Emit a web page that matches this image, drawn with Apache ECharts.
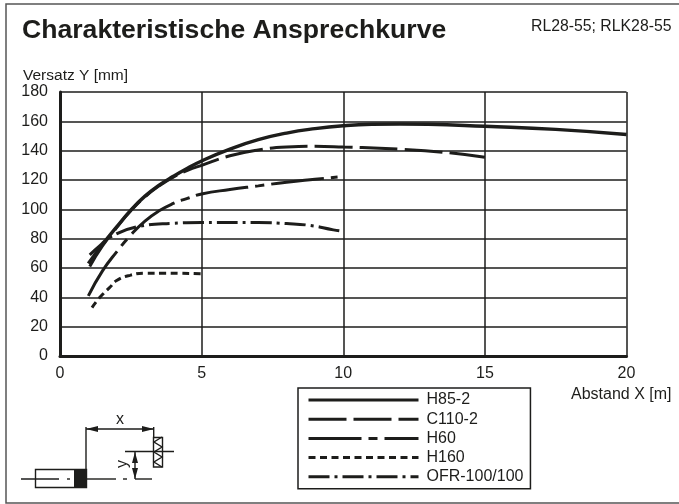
<!DOCTYPE html>
<html>
<head>
<meta charset="utf-8">
<style>
  html, body { margin: 0; padding: 0; background: #fff; }
  #chart { width: 679px; height: 504px; }
</style>
<script src="https://cdn.jsdelivr.net/npm/echarts@6/dist/echarts.min.js"></script>
</head>
<body>
<div id="chart"></div>
<script>
const ink = "#1d1d1b";
const font = "'Liberation Sans', Arial, sans-serif";

// [abstand m, versatz mm]
const h85 = [[1, 63], [1.5, 76], [2, 88], [2.5, 99.5], [3, 109], [3.5, 116.5], [4, 122.5], [4.5, 128], [5, 133], [6, 141], [7, 147.5], [8, 152], [9, 155], [10, 157], [11, 158], [12, 158.2], [13, 158], [15, 156.6], [17.5, 154.5], [20, 151]];
const c110 = [[1.05, 61], [1.5, 75], [2, 87.5], [2.5, 99], [3, 108.5], [3.5, 116], [4, 122], [4.5, 126.5], [5, 130], [6, 136.5], [7, 140.5], [8, 142.5], [9, 143], [10, 142.5], [12, 141], [13.5, 139], [15, 135.5]];
const h60 = [[1, 41], [1.5, 58], [2, 71], [2.5, 82.5], [3, 92], [3.5, 99], [4, 104], [4.5, 107.5], [5, 110.5], [6, 113.5], [7, 116], [8, 118.5], [9, 120.5], [9.8, 122]];
const h160 = [[1.13, 33], [1.41, 40], [1.77, 47], [2, 51.5], [2.47, 55], [3.06, 56.5], [3.65, 56.5], [5, 56]];
const ofr = [[1.05, 69], [1.4, 75], [1.77, 81], [2.7, 88], [4, 90.5], [5, 91], [7, 91], [8, 90.3], [8.83, 89], [9.65, 86], [10, 85]];

const xTicks = { min: 0, max: 20, interval: 5 };
const yTicks = { min: 0, max: 180, interval: 20 };

// line patterns as drawn in the legend box
const dashes = {
  "H85-2": "solid",
  "C110-2": [38, 7],
  "H60": [53, 7, 9, 7],
  "H160": [7, 4.5],
  "OFR-100/100": [21, 5, 3, 5],
};
const names = Object.keys(dashes);

function curve(name, data, width) {
  return {
    name: name,
    type: "line",
    data: data,
    smooth: 0.5,
    symbol: "none",
    silent: true,
    itemStyle: { color: ink },
    lineStyle: { color: ink, width: width, type: dashes[name], cap: "butt" },
  };
}

function sensorSketch() {
  const line = (x1, y1, x2, y2, w) => ({
    type: "line",
    shape: { x1, y1, x2, y2 },
    style: { stroke: ink, lineWidth: w || 1.4 },
  });
  const poly = (points) => ({
    type: "polygon",
    shape: { points },
    style: { fill: ink },
  });
  const zigzag = {
    type: "polyline",
    shape: { points: [[162, 437], [154, 442], [162, 447], [154, 452], [162, 457], [154, 462], [162, 467]] },
    style: { stroke: ink, lineWidth: 1.4, fill: null },
  };
  return [
    // frame
    { type: "rect", shape: { x: 6, y: 4, width: 700, height: 499 }, style: { fill: null, stroke: "#555", lineWidth: 1.5 } },
    // sensor body
    { type: "rect", shape: { x: 35.5, y: 469.5, width: 51, height: 18 }, style: { fill: "#fff", stroke: ink, lineWidth: 1.4 } },
    { type: "rect", shape: { x: 74, y: 469, width: 13, height: 19 }, style: { fill: ink } },
    // centre line
    line(21, 479, 59, 479), line(67, 479, 70, 479), line(87, 479, 116, 479), line(123, 479, 127, 479), line(135, 479, 152, 479),
    // x dimension
    line(86, 427, 86, 469), line(86, 429, 153, 429), line(153.7, 427, 153.7, 437),
    poly([[86, 429], [98, 426], [98, 432]]), poly([[154, 429], [142, 426], [142, 432]]),
    { type: "text", style: { x: 120, y: 420, text: "x", font: "16px " + font, fill: ink, align: "center", verticalAlign: "middle" } },
    // reflector
    { type: "rect", shape: { x: 153.5, y: 437.5, width: 9, height: 29.5 }, style: { fill: "#fff", stroke: ink, lineWidth: 1.4 } },
    zigzag,
    line(125, 451.5, 174, 451.5),
    // y dimension
    line(135, 452, 135, 479),
    poly([[135, 452], [132, 463], [138, 463]]), poly([[135, 479], [132, 468], [138, 468]]),
    { type: "text", x: 123, y: 464, rotation: Math.PI / 2, style: { text: "y", font: "16px " + font, fill: ink, align: "center", verticalAlign: "middle" } },
    // header text
    { type: "text", style: { x: 22, y: 31, text: "Charakteristische Ansprechkurve", font: "bold 26.6px " + font, fill: ink, verticalAlign: "middle" } },
    { type: "text", style: { x: 531, y: 27, text: "RL28-55; RLK28-55", font: "15.8px " + font, fill: ink, verticalAlign: "middle" } },
  ];
}

const chart = echarts.init(document.getElementById("chart"), null, { renderer: "canvas" });
chart.setOption({
  animation: false,
  backgroundColor: "#fff",
  textStyle: { fontFamily: font },
  grid: { left: 60, right: 52.5, top: 92, bottom: 148 },
  xAxis: {
    type: "value",
    ...xTicks,
    name: "Abstand X [m]",
    nameLocation: "end",
    nameTextStyle: { color: ink, fontSize: 16, align: "left", verticalAlign: "top", padding: [31, 0, 0, 0] },
    nameGap: -55.5,
    axisLine: { lineStyle: { color: ink, width: 3 } },
    axisTick: { show: false },
    axisLabel: { color: ink, fontSize: 16, margin: 10 },
    splitLine: { show: true, lineStyle: { color: ink, width: 1.5 } },
  },
  yAxis: {
    type: "value",
    ...yTicks,
    name: "Versatz Y [mm]",
    nameLocation: "end",
    nameGap: 7,
    nameTextStyle: { color: ink, fontSize: 15.5, align: "left", padding: [0, 0, 0, -37] },
    axisLine: { show: true, lineStyle: { color: ink, width: 3 } },
    axisTick: { show: false },
    axisLabel: { color: ink, fontSize: 16, margin: 12 },
    splitLine: { show: true, lineStyle: { color: ink, width: 1.5 } },
  },
  legend: {
    orient: "vertical",
    left: 298,
    top: 388,
    padding: [4, 7, 4, 9],
    itemWidth: 110,
    itemHeight: 14,
    itemGap: 3.2,
    borderColor: ink,
    borderWidth: 1.5,
    itemStyle: { opacity: 0 },
    lineStyle: { width: 3, color: ink },
    textStyle: { color: ink, fontSize: 16, padding: [0, 0, 0, 3] },
    data: names,
  },
  series: [
    curve("H85-2", h85, 3.4),
    curve("C110-2", c110, 3),
    curve("H60", h60, 3),
    curve("H160", h160, 3),
    curve("OFR-100/100", ofr, 3),
  ],
  graphic: sensorSketch(),
});
</script>
</body>
</html>
